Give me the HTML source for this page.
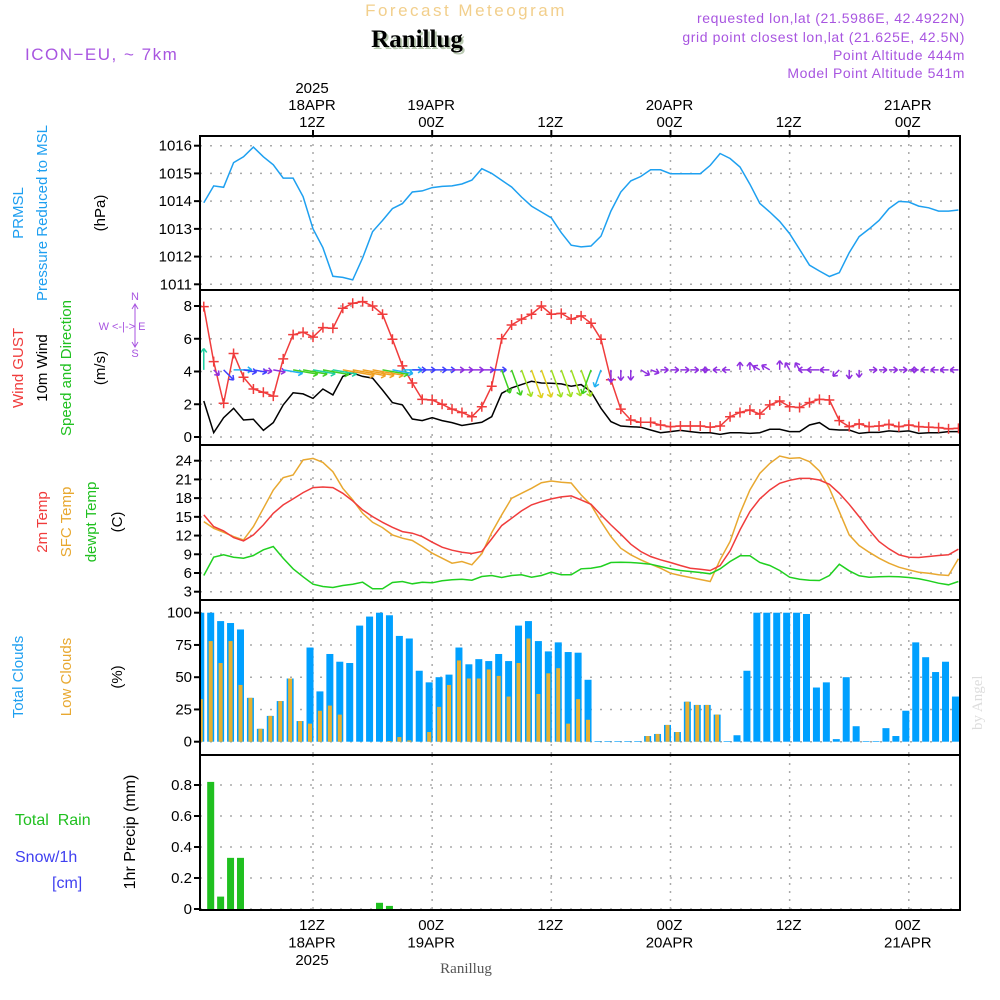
<!DOCTYPE html>
<html><head><meta charset="utf-8"><style>
html,body{margin:0;padding:0;background:#fff;}
svg{display:block;font-family:"Liberation Sans",sans-serif;}
</style></head><body>
<svg id="chart" width="1000" height="1000" viewBox="0 0 1000 1000" xmlns="http://www.w3.org/2000/svg">
<rect width="1000" height="1000" fill="#fff"/>
<text x="466" y="16" text-anchor="middle" font-size="17" fill="#f2cf8c" letter-spacing="2.5">Forecast Meteogram</text>
<text x="419" y="49" text-anchor="middle" font-size="25" font-weight="bold" font-family="Liberation Serif,serif" fill="#b8c8b0">Ranillug</text>
<text x="417" y="47" text-anchor="middle" font-size="25" font-weight="bold" font-family="Liberation Serif,serif" fill="#000">Ranillug</text>
<text x="25" y="60" font-size="17" fill="#a855e0" letter-spacing="1.5">ICON−EU, ~ 7km</text>
<g font-size="14" fill="#a855e0" text-anchor="end" letter-spacing="0.6">
<text x="965" y="23">requested lon,lat (21.5986E, 42.4922N)</text>
<text x="965" y="42">grid point closest lon,lat (21.625E, 42.5N)</text>
<text x="965" y="60">Point Altitude 444m</text>
<text x="965" y="78">Model Point Altitude 541m</text>
</g>
<text transform="translate(982,730) rotate(-90)" font-size="15" font-family="Liberation Serif,serif" fill="#ddd">by Angel</text>
<text x="466" y="973" text-anchor="middle" font-size="15" font-family="Liberation Serif,serif" fill="#555">Ranillug</text>
<g font-size="15">
<text transform="translate(23,213) rotate(-90)" text-anchor="middle" fill="#1e9ff0">PRMSL</text>
<text transform="translate(47,213) rotate(-90)" text-anchor="middle" fill="#1e9ff0">Pressure Reduced to MSL</text>
<text transform="translate(105,213) rotate(-90)" text-anchor="middle" fill="#000">(hPa)</text>
<text transform="translate(23,368) rotate(-90)" text-anchor="middle" fill="#f03c3c">Wind GUST</text>
<text transform="translate(47,368) rotate(-90)" text-anchor="middle" fill="#000">10m Wind</text>
<text transform="translate(71,368) rotate(-90)" text-anchor="middle" fill="#20c020">Speed and Direction</text>
<text transform="translate(105,368) rotate(-90)" text-anchor="middle" fill="#000">(m/s)</text>
</g>
<g fill="#a855e0" font-size="11">
<text x="122" y="330" text-anchor="middle">W &lt;-|-&gt; E</text>
<text x="135" y="300" text-anchor="middle">N</text>
<text x="135" y="357" text-anchor="middle">S</text>
<path d="M135,304V347M132,309l3,-5l3,5M132,342l3,5l3,-5" stroke="#a855e0" fill="none" stroke-width="1"/>
</g>
<g font-size="15">
<text transform="translate(47,522) rotate(-90)" text-anchor="middle" fill="#f03c3c">2m Temp</text>
<text transform="translate(71,522) rotate(-90)" text-anchor="middle" fill="#e8a830">SFC Temp</text>
<text transform="translate(96,522) rotate(-90)" text-anchor="middle" fill="#20c020">dewpt Temp</text>
<text transform="translate(122,522) rotate(-90)" text-anchor="middle" fill="#000">(C)</text>
<text transform="translate(23,677) rotate(-90)" text-anchor="middle" fill="#1e9ff0">Total Clouds</text>
<text transform="translate(71,677) rotate(-90)" text-anchor="middle" fill="#e8a830">Low Clouds</text>
<text transform="translate(122,677) rotate(-90)" text-anchor="middle" fill="#000">(%)</text>
<text x="15" y="825" fill="#20c020" font-size="16" xml:space="preserve">Total  Rain</text>
<text x="15" y="862" fill="#4040f0" font-size="16">Snow/1h</text>
<text x="52" y="888" fill="#4040f0" font-size="16">[cm]</text>
<text transform="translate(135,832) rotate(-90)" text-anchor="middle" fill="#000" font-size="16">1hr Precip (mm)</text>
</g>
<g id="plots"></g>
</svg>
<script>
// ---- data (hourly, t = hours relative to 12Z 18APR) ----
const hoursStart = -11;
const pressure = [1013.94,1014.55,1014.50,1015.39,1015.60,1015.95,1015.60,1015.31,1014.83,1014.83,1014.16,1013.0,1012.32,1011.29,1011.25,1011.16,1011.95,1012.90,1013.30,1013.73,1013.91,1014.33,1014.37,1014.49,1014.53,1014.55,1014.62,1014.76,1015.17,1015.0,1014.75,1014.51,1014.15,1013.82,1013.61,1013.40,1012.86,1012.41,1012.35,1012.38,1012.74,1013.64,1014.33,1014.73,1014.89,1015.13,1015.13,1014.99,1014.99,1014.99,1014.99,1015.29,1015.72,1015.54,1015.23,1014.61,1013.92,1013.61,1013.27,1012.83,1012.26,1011.69,1011.48,1011.28,1011.42,1012.14,1012.72,1013.0,1013.30,1013.73,1013.99,1013.97,1013.82,1013.76,1013.64,1013.64,1013.68];
const gust = [7.96,4.6,2.06,5.1,3.65,2.93,2.73,2.5,4.77,6.25,6.4,6.1,6.68,6.64,7.86,8.17,8.27,8.0,7.5,5.97,4.34,3.3,2.3,2.26,2.0,1.7,1.5,1.24,1.85,3.1,6.0,6.84,7.2,7.5,8.0,7.5,7.55,7.2,7.4,6.95,5.97,3.5,1.7,1.04,0.9,0.9,0.73,0.63,0.67,0.67,0.67,0.6,0.67,1.24,1.5,1.65,1.4,1.96,2.2,1.85,1.8,2.1,2.3,2.26,1.0,0.63,0.8,0.63,0.67,0.77,0.63,0.73,0.63,0.6,0.57,0.5,0.53];
const wind = [2.2,0.26,1.18,1.75,1.04,1.08,0.4,0.88,1.96,2.7,2.63,2.36,2.93,2.57,3.7,3.9,3.7,3.6,2.87,2.1,1.96,1.1,1.0,1.18,1.0,0.88,0.7,0.8,0.9,1.24,2.67,3.0,3.2,3.4,3.3,3.28,3.24,3.1,3.2,2.77,1.75,0.94,0.67,0.63,0.6,0.43,0.26,0.33,0.4,0.33,0.26,0.26,0.16,0.26,0.26,0.22,0.26,0.47,0.47,0.33,0.33,0.73,0.88,0.47,0.43,0.43,0.22,0.28,0.28,0.37,0.33,0.37,0.22,0.26,0.26,0.33,0.33];
const windDir = [0,135,135,90,100,100,100,100,100,100,100,100,100,100,100,100,100,100,100,100,90,90,90,90,90,90,90,90,90,90,160,160,160,160,160,160,160,160,160,200,200,180,180,180,120,110,90,90,90,90,90,270,270,270,0,0,300,300,0,330,330,270,270,270,225,180,180,90,90,90,90,90,270,270,270,270,270];
const temp2m = [15.31,13.44,12.75,11.68,11.15,12.11,13.71,15.57,16.91,17.87,18.88,19.68,19.79,19.68,18.77,17.55,16.11,15.04,14.13,13.33,12.64,12.37,11.84,10.93,10.13,9.65,9.33,9.12,9.44,11.47,13.6,14.77,15.95,16.91,17.44,17.87,18.19,18.35,17.71,17.01,15.31,13.71,12.21,10.61,9.44,8.64,8.11,7.68,7.2,6.77,6.61,6.4,7.2,9.55,12.91,15.84,17.87,19.31,20.37,20.85,21.17,21.17,20.91,20.21,18.77,17.01,15.04,12.91,11.04,9.87,8.91,8.53,8.48,8.64,8.8,8.91,9.81];
const tempSfc = [14.24,13.17,12.53,11.84,11.31,13.44,16.37,19.31,21.28,21.71,24.11,24.37,23.73,22.24,19.57,17.71,15.57,14.13,13.28,12.11,11.57,11.2,10.24,9.17,8.37,7.57,7.84,7.31,9.07,12.48,15.31,17.97,18.77,19.57,20.48,20.75,20.53,20.43,18.51,16.91,14.24,11.84,9.97,8.91,8.11,7.41,6.77,5.97,5.6,5.28,4.96,4.64,8.11,11.04,15.57,19.31,21.97,23.57,24.75,24.37,24.48,23.84,22.35,19.57,15.84,12.11,10.4,9.33,8.37,7.57,6.93,6.51,6.13,5.97,5.71,5.6,8.27];
const dewpt = [5.6,8.53,8.91,8.53,8.37,8.8,9.71,10.24,8.37,6.67,5.39,4.21,3.84,3.68,4.0,4.21,4.53,3.47,3.47,4.48,4.64,4.27,4.53,4.43,4.75,4.91,5.01,4.85,5.44,5.6,5.28,5.6,5.71,5.33,5.6,6.13,5.71,5.71,6.67,6.77,7.04,7.68,7.73,7.68,7.57,7.41,7.04,6.67,6.4,6.24,6.08,5.87,6.67,7.84,8.75,8.75,7.68,7.2,6.4,5.33,5.01,4.85,4.8,5.6,7.41,6.35,5.55,5.33,5.39,5.44,5.39,5.28,5.07,4.75,4.37,4.11,4.64];
const totalClouds = [100,100,93.5,92,87,34,10,20,31.5,49,16,73,39,68,62,61,90,97,100,98,82,80,55,46,50,52,73,60,64,62.5,68,62.5,90,93.5,78,70,77,69.5,69,48,0.5,0.5,0.5,0.5,0.5,4.4,6,13,7.5,31,28.5,28.5,21,0.5,5,55,100,100,100,100,100,99,42,46,2,50,12,0.5,0.5,10.5,4.4,24,77,65.5,54,62,35];
const lowClouds = [33,78,61,78,44,34,10,20,31.5,49,16,14,24,28,21,0,0,0,0,0.5,3.6,1,0,7.5,27,44,63,49,49,56,51,35,61,80,37,53,57,14,33,17,0,0,0,0,0,4.4,6,13,7.5,31,28.5,28.5,21,0,0,0,0,0,0,0,0,0,0,0,0,0,0,0,0,0,0,0,0,0,0,0,0];
const precip = [0,0.82,0.08,0.33,0.33,0,0,0,0,0,0,0,0,0,0,0,0,0,0.04,0.02,0,0,0,0,0,0,0,0,0,0,0,0,0,0,0,0,0,0,0,0,0,0,0,0,0,0,0,0,0,0,0,0,0,0,0,0,0,0,0,0,0,0,0,0,0,0,0,0,0,0,0,0,0,0,0,0,0];
const pTicks = [1011,1012,1013,1014,1015,1016];
const wTicks = [0,2,4,6,8];
const tTicks = [3,6,9,12,15,18,21,24];
const cTicks = [0,25,50,75,100];
const rTicks = [0,0.2,0.4,0.6,0.8];
const rTickLabels = ["0","0.2","0.4","0.6","0.8"];
const gridHours = [0,12,24,36,48,60];
const topLabels = [["2025","18APR","12Z"],["","19APR","00Z"],["","","12Z"],["","20APR","00Z"],["","","12Z"],["","21APR","00Z"]];
const bottomLabels = [["12Z","18APR","2025"],["00Z","19APR",""],["12Z","",""],["00Z","20APR",""],["12Z","",""],["00Z","21APR",""]];

// ---- axes ----
const L=200,R=960;
const xT = t => 313 + 9.93*t;
const lin = (d0,d1,r0,r1) => v => r0 + (v-d0)*(r1-r0)/(d1-d0);
const yP = lin(1011,1016,284.3,145.7);
const yW = lin(0,8,437,306);
const yTm = lin(3,24,591.7,460.7);
const yC = lin(0,100,741.7,612.7);
const yR = lin(0,0.8,909,785);
const panels = [[136,290],[290,445],[445,600],[600,755],[755,910]];
const NS="http://www.w3.org/2000/svg";
const root=document.getElementById('plots');
function mk(tag,attrs,parent){const e=document.createElementNS(NS,tag);for(const k in attrs)e.setAttribute(k,attrs[k]);(parent||root).appendChild(e);return e;}
const defs=mk('defs',{});
panels.forEach((p,i)=>{const c=mk('clipPath',{id:'clip'+i},defs);mk('rect',{x:L,y:p[0],width:R-L,height:p[1]-p[0]},c);});

function gridPanel(i,ticks,yf,labels){
  const g=mk('g',{});
  
  
  ticks.forEach((v,k)=>{
    const y=yf(v);
    mk('line',{x1:L,x2:R,y1:y,y2:y,stroke:'#aaa','stroke-dasharray':'2,8','stroke-width':1.5},g);
    mk('line',{x1:L-6,x2:L,y1:y,y2:y,stroke:'#000','stroke-width':2},g);
    const tx=mk('text',{x:192,y:y+5,'text-anchor':'end','font-size':15,fill:'#000'},g);
    
    
    tx.textContent = labels ? labels[k] : String(v);
  });
  gridHours.forEach(h=>{const x=xT(h);mk('line',{x1:x,x2:x,y1:panels[i][0],y2:panels[i][1],stroke:'#aaa','stroke-dasharray':'2,6','stroke-width':1.5},g);});
}
gridPanel(0,pTicks,yP);
gridPanel(1,wTicks,yW);
gridPanel(2,tTicks,yTm);
gridPanel(3,cTicks,yC);
gridPanel(4,rTicks,yR,rTickLabels);

function line(arr,yf,color,name,clip){
  const pts=arr.map((v,k)=>xT(hoursStart+k).toFixed(1)+','+yf(v).toFixed(1)).join(' ');
  const e=mk('polyline',{points:pts,fill:'none',stroke:color,'stroke-width':1.5,'clip-path':'url(#clip'+clip+')'});
  
  
  return e;
}
line(pressure,yP,'#1ea0f0','pressure-line',0);
line(wind,yW,'#000','wind-speed-line',1);
line(gust,yW,'#f03c3c','wind-gust-line',1);
const gm=mk('g',{stroke:'#f03c3c','stroke-width':1.5,'clip-path':'url(#clip1)'});


gust.forEach((v,k)=>{const x=xT(hoursStart+k),y=yW(v);mk('path',{d:`M${x-5},${y}h10M${x},${y-5}v10`},gm);});
// wind arrows
function wcol(s){if(s<1)return '#9030e0';if(s<1.5)return '#4040ff';if(s<2.2)return '#20b0f0';if(s<2.6)return '#20d0a0';if(s<3.05)return '#40d020';if(s<3.3)return '#a0e020';if(s<3.5)return '#e0d020';return '#f0a020';}
const wa=mk('g',{'clip-path':'url(#clip1)','stroke-width':1.5,fill:'none'});


windDir.forEach((d,k)=>{
  const s=wind[k], len=6+s*7, x0=xT(hoursStart+k), y0=yW(4.1);
  const a=d*Math.PI/180, dx=Math.sin(a), dy=-Math.cos(a);
  const x1=x0+dx*len, y1=y0+dy*len;
  const hx=-dx*4, hy=-dy*4;
  const c=wcol(s);
  const ar=mk('path',{d:`M${x0},${y0}L${x1},${y1}M${x1},${y1}l${hx-dy*3},${hy+dx*3}M${x1},${y1}l${hx+dy*3},${hy-dx*3}`,stroke:c},wa);
  
  
});
line(tempSfc,yTm,'#e8a830','sfc-temp-line',2);
line(temp2m,yTm,'#f03c3c','temp-2m-line',2);
line(dewpt,yTm,'#20d020','dewpoint-line',2);
// cloud bars
const cb=mk('g',{'clip-path':'url(#clip3)'});


totalClouds.forEach((v,k)=>{
  const x=xT(hoursStart+k)-3;
  const r=mk('rect',{x:x-3.5,y:yC(v),width:7,height:yC(0)-yC(v),fill:'#00a0ff'},cb);
  
  
  const lv=lowClouds[k];
  if(lv>0){const r2=mk('rect',{x:x-2,y:yC(lv),width:4,height:yC(0)-yC(lv),fill:'#e8b030'},cb);
  
  }
});
const pb=mk('g',{'clip-path':'url(#clip4)'});


precip.forEach((v,k)=>{if(v<=0)return;const x=xT(hoursStart+k)-3;
  const r=mk('rect',{x:x-3.5,y:yR(v),width:7,height:yR(0)-yR(v),fill:'#20c020'},pb);
  
  });
// frames
panels.forEach((p,i)=>{const f=mk('rect',{x:L,y:p[0],width:R-L,height:p[1]-p[0],fill:'none',stroke:'#000','stroke-width':2});
  
  });
// time labels
const ax=mk('g',{'font-size':15,fill:'#000','text-anchor':'middle'});


gridHours.forEach((h,i)=>{
  const x=xT(h)-1;
  mk('line',{x1:x+1,x2:x+1,y1:130,y2:136,stroke:'#000','stroke-width':2},ax);
  topLabels[i].forEach((s,j)=>{if(!s)return;const t=mk('text',{x:x,y:93+j*17},ax);t.textContent=s;});
  bottomLabels[i].forEach((s,j)=>{if(!s)return;const t=mk('text',{x:x,y:930+j*17.5},ax);t.textContent=s;});
});
</script>
</body></html>
